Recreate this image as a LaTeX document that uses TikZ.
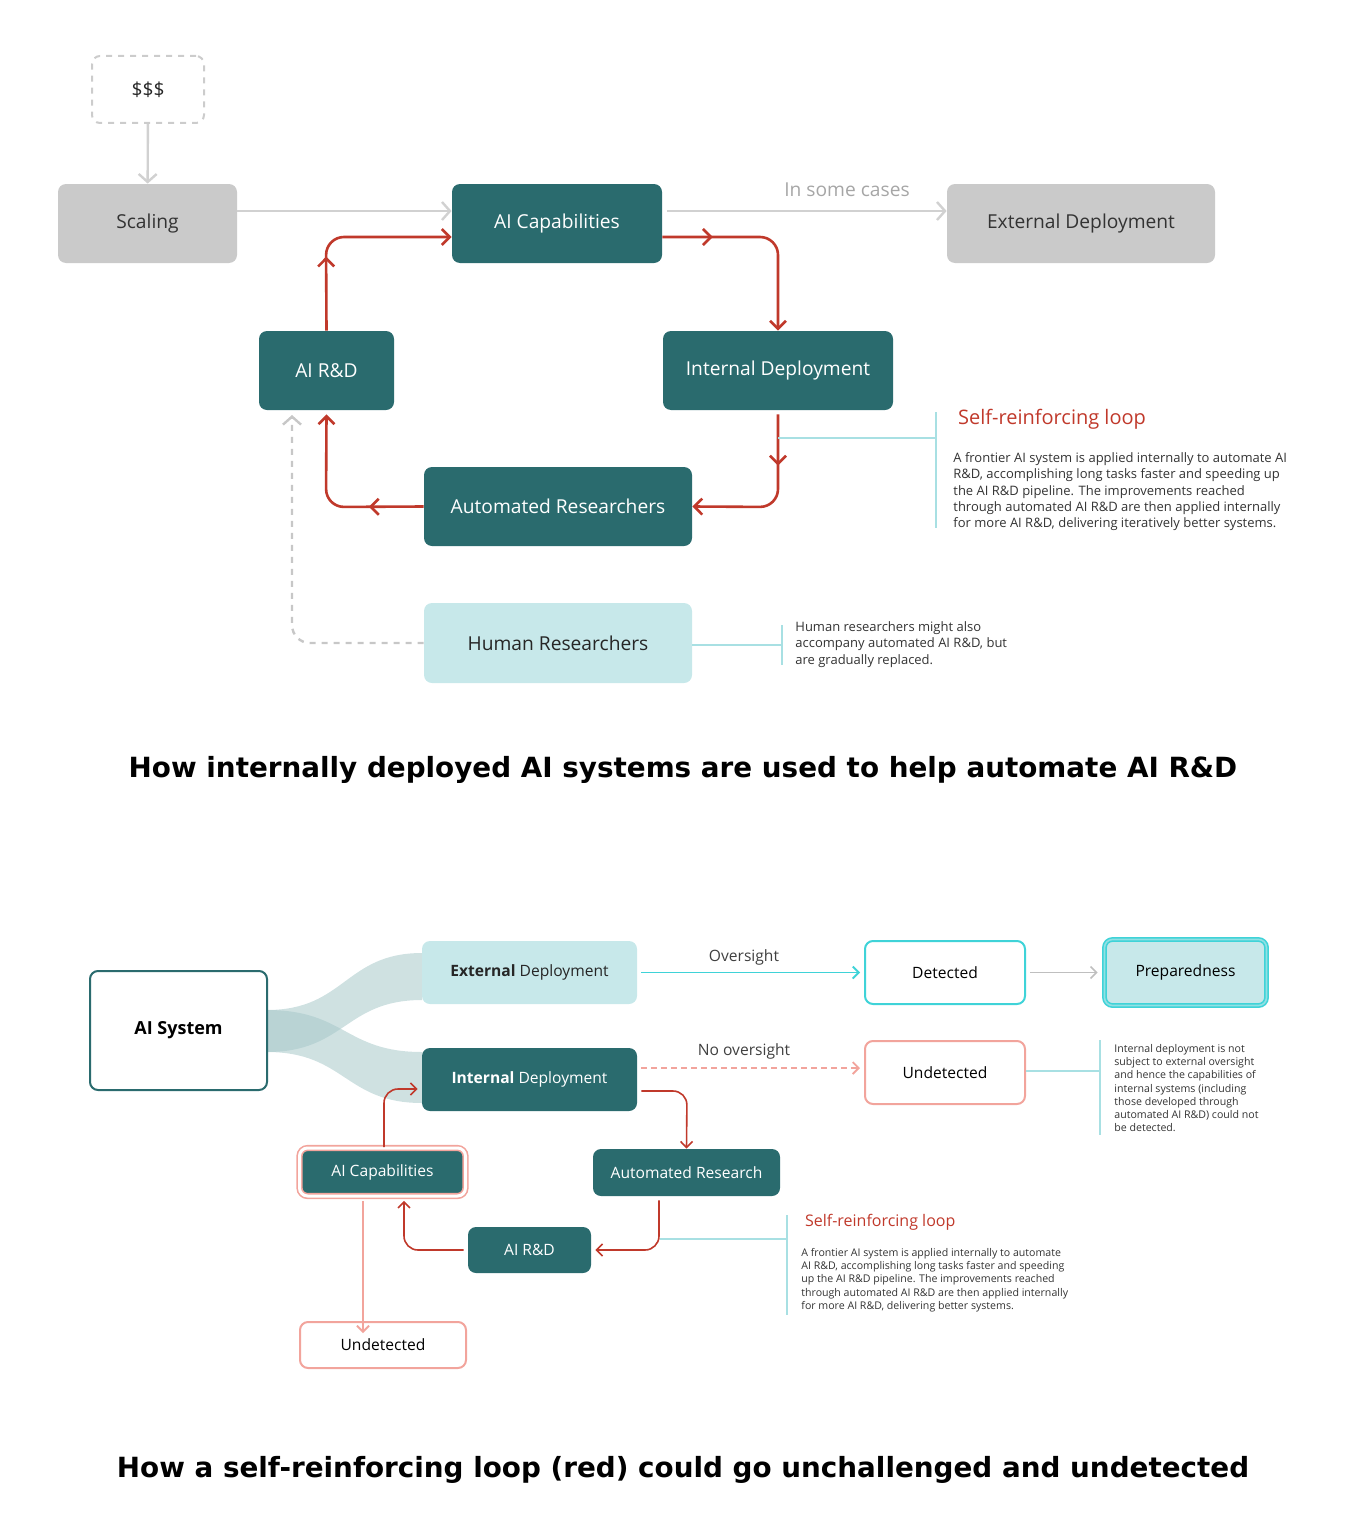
\documentclass[tikz,border=0pt]{standalone}
\usepackage{fontspec}
\setmainfont{Open Sans}
\newfontfamily\capfont{DejaVu Sans}
\usetikzlibrary{arrows.meta,decorations.markings}
\definecolor{teal}{HTML}{2A6B6E}
\definecolor{gbox}{HTML}{CACACA}
\definecolor{lbox}{HTML}{C7E8EA}
\definecolor{red}{HTML}{C0392B}
\definecolor{pink}{HTML}{F2A49C}
\definecolor{cyan}{HTML}{3FD3D8}
\definecolor{rib}{HTML}{A7C8C9}
\definecolor{callline}{HTML}{A8E0E3}
\begin{document}
\begin{tikzpicture}[x=0.5pt,y=-0.5pt,
 box/.style={rounded corners=4pt,inner sep=0pt},
 tealbox/.style={box,fill=teal,text=white},
 graybox/.style={box,fill=gbox,text=black!80},
 lightbox/.style={box,fill=lbox,text=black!85},
 redarr/.style={draw=red,line width=1.3pt,rounded corners=9pt,-{Straight Barb[length=4pt,width=8pt]}},
 mid/.style={postaction={decorate},decoration={markings,mark=at position #1 with {\arrow{Straight Barb[length=4pt,width=8pt]}}}},
 redthin/.style={draw=red,line width=0.8pt,rounded corners=7pt,-{Straight Barb[length=3pt,width=6pt]}},
 grayarr/.style={draw=black!18,line width=1.2pt,-{Straight Barb[length=4pt,width=9pt]}},
 big/.style={font=\fontsize{9.6}{12}\selectfont},
 sm/.style={font=\fontsize{7.8}{10}\selectfont},
 cl/.style={draw=callline,line width=0.6pt}]
\useasboundingbox (0,0) rectangle (1366,1536);
% ---------- top diagram ----------
\node[box,draw=black!20,dashed,line width=1pt,minimum width=56pt,minimum height=33.5pt,big,text=black!85] (money) at (148,89.5) {\$\$\$};
\node[graybox,minimum width=89.5pt,minimum height=39.5pt,big] (scal) at (147.5,223.5) {Scaling};
\node[tealbox,minimum width=105pt,minimum height=39.5pt,big] (cap) at (557,223.5) {AI Capabilities};
\node[graybox,minimum width=134pt,minimum height=39.5pt,big] (ext) at (1081,223.5) {External Deployment};
\node[tealbox,minimum width=67.5pt,minimum height=39.5pt,big] (rd) at (326.5,370.5) {AI R\&D};
\node[tealbox,minimum width=115pt,minimum height=39.5pt,big] (int) at (778,370.5) {Internal Deployment};
\node[tealbox,minimum width=134pt,minimum height=39.5pt,big] (aut) at (558,506.5) {Automated Researchers};
\node[lightbox,minimum width=134pt,minimum height=40pt,big] (hum) at (558,643) {Human Researchers};
\draw[grayarr] (money) -- (scal);
\draw[grayarr] (scal.east |- 0,211) -- (cap.west |- 0,211);
\draw[grayarr] (667,211) coordinate (c1) -- (ext.west |- 0,211);
\node[big,text=black!35] (some) at (847,190) {In some cases};
\draw[redarr,mid=0.25] (cap.east |- 0,237) -- (778,237) -- (int.north);
\draw[redarr,mid=0.3] ([yshift=-2pt]int.south) -- (778,507) -- (aut.east);
\draw[redarr,mid=0.3] (aut.west) -- (326,507) -- ([yshift=-2pt]rd.south);
\draw[redarr,mid=0.35] (rd.north) -- (326,237) -- (cap.west |- 0,237);
\draw[draw=black!22,line width=1.2pt,dash pattern=on 3pt off 3pt,rounded corners=9pt,-{Straight Barb[length=4pt,width=9pt]}] (hum.west) -- (292,643) -- (292,415);
% callout 1
\draw[cl] (778,438) -- (936,438);
\draw[cl] (936,412) -- (936,528);
\node[anchor=west,text=red,font=\fontsize{10}{12}\selectfont] (t1) at (951,419) {Self-reinforcing loop};
\node[anchor=north west,align=left,text=black!80,font=\fontsize{6.5}{8.2}\selectfont,inner sep=0pt] (d1) at (953,452) {A frontier AI system is applied internally to automate AI\\R\&D, accomplishing long tasks faster and speeding up\\the AI R\&D pipeline. The improvements reached\\through automated AI R\&D are then applied internally\\for more AI R\&D, delivering iteratively better systems.};
\draw[cl] (hum.east |- 0,645) -- (782,645);
\draw[cl] (782,625) -- (782,665);
\node[anchor=north west,align=left,text=black!80,font=\fontsize{6.5}{8.2}\selectfont,inner sep=0pt] (d2) at (795,621) {Human researchers might also\\accompany automated AI R\&D, but\\are gradually replaced.};
\node[font=\capfont\bfseries\fontsize{13.9}{17}\selectfont] (cap1) at (683,770) {How internally deployed AI systems are used to help automate AI R\&D};
% ---------- bottom diagram ----------
\fill[rib,opacity=0.55] (267,1010) .. controls (345,1010) and (345,953) .. (422,953) -- (422,1000) .. controls (345,1000) and (345,1052) .. (267,1052) -- cycle;
\fill[rib,opacity=0.55] (267,1010) .. controls (345,1010) and (345,1052) .. (422,1052) -- (422,1103) .. controls (345,1103) and (345,1052) .. (267,1052) -- cycle;
\node[box,draw=teal,line width=1pt,fill=white,minimum width=88.5pt,minimum height=59.5pt,font=\bfseries\fontsize{9}{11}\selectfont] (sys) at (178.5,1030.5) {AI System};
\node[lightbox,minimum width=107.5pt,minimum height=31.5pt,sm] (ext2) at (529.5,972.5) {\textbf{External} Deployment};
\node[tealbox,minimum width=107.5pt,minimum height=31.5pt,sm] (int2) at (529.5,1079.5) {\textbf{Internal} Deployment};
\node[box,draw=cyan,line width=1pt,fill=white,minimum width=80pt,minimum height=31.5pt,sm] (det) at (945,972.5) {Detected};
\node[box,draw=cyan,line width=0.8pt,double=lbox!60!cyan,double distance=0.8pt,fill=lbox,minimum width=81pt,minimum height=33pt,sm] (prep) at (1185.5,972.5) {Preparedness};
\node[box,draw=pink,line width=1pt,fill=white,minimum width=80pt,minimum height=31.5pt,sm] (und1) at (945,1072.5) {Undetected};
\draw[draw=cyan,line width=0.9pt,-{Straight Barb[length=3pt,width=6pt]}] ([xshift=2pt]ext2.east) -- ([xshift=-2pt]det.west);
\node[sm,text=black!75] (ov) at (744,957) {Oversight};
\draw[draw=black!25,line width=0.8pt,-{Straight Barb[length=3pt,width=6pt]}] ([xshift=2pt]det.east) -- ([xshift=-3pt]prep.west);
\draw[draw=pink,line width=0.9pt,dash pattern=on 3pt off 2pt,-{Straight Barb[length=3pt,width=6pt]}] ([xshift=2pt]int2.east |- 0,1068) -- ([xshift=-2pt]und1.west |- 0,1068);
\node[sm,text=black!75] (nov) at (744,1051) {No oversight};
\draw[cl] (und1.east |- 0,1071) -- (1100,1071);
\draw[cl] (1100,1040) -- (1100,1135);
\node[anchor=north west,align=left,text=black!80,font=\fontsize{5.3}{6.6}\selectfont,inner sep=0pt] (d3) at (1114,1044) {Internal deployment is not\\subject to external oversight\\and hence the capabilities of\\internal systems (including\\those developed through\\automated AI R\&D) could not\\be detected.};
\node[tealbox,minimum width=83pt,minimum height=24pt,sm,draw=pink,double=white,double distance=1.5pt,line width=0.8pt] (cap2) at (382.5,1172) {AI Capabilities};
\node[tealbox,minimum width=93.5pt,minimum height=23.5pt,sm] (aut2) at (686.5,1172.5) {Automated Research};
\node[tealbox,minimum width=61.5pt,minimum height=23pt,sm] (rd2) at (529.5,1250) {AI R\&D};
\node[box,draw=pink,line width=1pt,fill=white,minimum width=83pt,minimum height=23pt,sm] (und2) at (383,1345) {Undetected};
\draw[redthin] (cap2.north -| 384,0) -- (384,1089) -- ([xshift=-2pt]int2.west |- 0,1089);
\draw[redthin] ([xshift=2pt]int2.east |- 0,1091) -- (687,1091) -- (aut2.north);
\draw[redthin] ([yshift=-2pt]aut2.south -| 659,0) -- (659,1250) -- ([xshift=2pt]rd2.east);
\draw[redthin] ([xshift=-2pt]rd2.west) -- (404,1250) -- ([yshift=-2pt]cap2.south -| 404,0);
\draw[draw=pink,line width=0.9pt,-{Straight Barb[length=3pt,width=6pt]}] ([yshift=-2pt]cap2.south -| 363,0) -- ([yshift=-6pt]und2.north -| 363,0);
\draw[cl] (660,1239) -- (787,1239);
\draw[cl] (787,1215) -- (787,1315);
\node[anchor=west,text=red,font=\fontsize{8}{10}\selectfont] (t2) at (798,1222) {Self-reinforcing loop};
\node[anchor=north west,align=left,text=black!80,font=\fontsize{5.3}{6.6}\selectfont,inner sep=0pt] (d4) at (801,1248) {A frontier AI system is applied internally to automate\\AI R\&D, accomplishing long tasks faster and speeding\\up the AI R\&D pipeline. The improvements reached\\through automated AI R\&D are then applied internally\\for more AI R\&D, delivering better systems.};
\node[font=\capfont\bfseries\fontsize{13.9}{17}\selectfont] (cap2t) at (683,1470) {How a self-reinforcing loop (red) could go unchallenged and undetected};
\end{tikzpicture}
\end{document}
